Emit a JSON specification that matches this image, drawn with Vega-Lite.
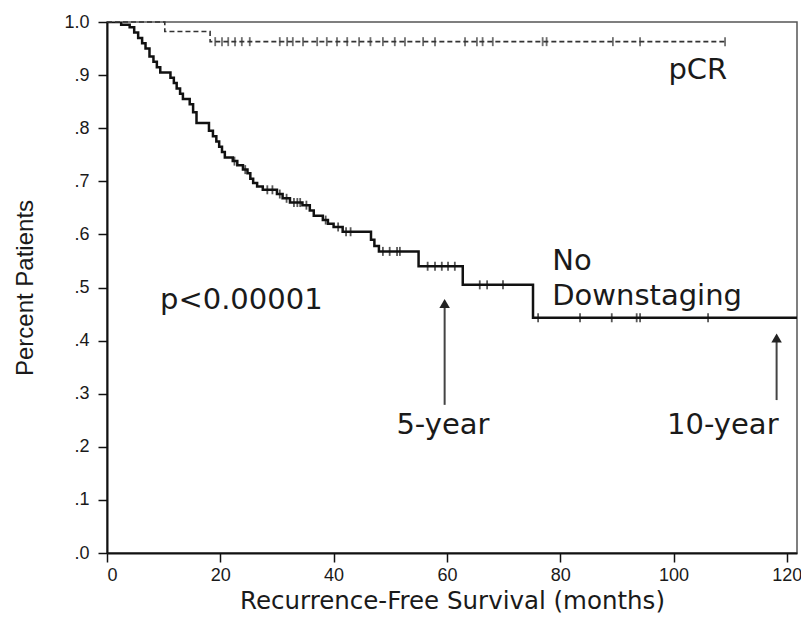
{
  "$schema": "https://vega.github.io/schema/vega-lite/v6.json",
  "width": 690,
  "height": 531,
  "autosize": "none",
  "padding": {"left": 107, "top": 22, "right": 4, "bottom": 64},
  "background": "white",
  "config": {
    "view": {"stroke": "#555", "strokeWidth": 1.5},
    "font": "Liberation Sans",
    "axis": {
      "grid": false,
      "domainColor": "#111",
      "domainWidth": 2,
      "tickColor": "#111",
      "tickWidth": 1.5,
      "tickSize": 9,
      "labelFont": "Liberation Sans",
      "labelFontSize": 18,
      "labelColor": "#1a1a1a",
      "titleFont": "DejaVu Sans",
      "titleFontSize": 24.5,
      "titleFontWeight": "normal",
      "titleColor": "#1a1a1a"
    }
  },
  "datasets": {
    "nd": [
      {"month": 0, "surv": 1.0},
      {"month": 2.5, "surv": 0.995},
      {"month": 4.0, "surv": 0.99},
      {"month": 4.8, "surv": 0.98},
      {"month": 5.5, "surv": 0.97},
      {"month": 6.2, "surv": 0.96},
      {"month": 6.8, "surv": 0.95},
      {"month": 7.5, "surv": 0.935},
      {"month": 8.2, "surv": 0.925},
      {"month": 8.8, "surv": 0.915},
      {"month": 9.4, "surv": 0.905},
      {"month": 11.2, "surv": 0.895},
      {"month": 11.8, "surv": 0.885},
      {"month": 12.3, "surv": 0.875},
      {"month": 12.9, "surv": 0.865},
      {"month": 13.4, "surv": 0.855},
      {"month": 14.6, "surv": 0.845},
      {"month": 15.2, "surv": 0.83},
      {"month": 15.8, "surv": 0.81},
      {"month": 18.0, "surv": 0.795},
      {"month": 18.7, "surv": 0.785},
      {"month": 19.3, "surv": 0.775},
      {"month": 19.8, "surv": 0.765},
      {"month": 20.3, "surv": 0.755},
      {"month": 20.8, "surv": 0.745},
      {"month": 22.2, "surv": 0.738},
      {"month": 23.0, "surv": 0.73},
      {"month": 24.0, "surv": 0.722},
      {"month": 24.8, "surv": 0.715},
      {"month": 25.3, "surv": 0.705},
      {"month": 25.8, "surv": 0.697},
      {"month": 26.5, "surv": 0.69},
      {"month": 27.5, "surv": 0.684},
      {"month": 30.0, "surv": 0.676},
      {"month": 31.0, "surv": 0.668},
      {"month": 32.3, "surv": 0.66},
      {"month": 34.5, "surv": 0.655},
      {"month": 35.8, "surv": 0.645},
      {"month": 36.5, "surv": 0.635},
      {"month": 38.1, "surv": 0.627},
      {"month": 39.0, "surv": 0.62},
      {"month": 40.0, "surv": 0.614},
      {"month": 41.6, "surv": 0.605},
      {"month": 46.6, "surv": 0.59},
      {"month": 47.2, "surv": 0.578},
      {"month": 48.0, "surv": 0.568},
      {"month": 55.0, "surv": 0.54},
      {"month": 62.8, "surv": 0.505},
      {"month": 75.2, "surv": 0.443},
      {"month": 121.8, "surv": 0.443}
    ],
    "ndc": [
      {"month": 22.5, "surv": 0.738},
      {"month": 24.4, "surv": 0.722},
      {"month": 28.3, "surv": 0.684},
      {"month": 29.2, "surv": 0.684},
      {"month": 30.5, "surv": 0.676},
      {"month": 31.7, "surv": 0.668},
      {"month": 33.0, "surv": 0.66},
      {"month": 33.6, "surv": 0.66},
      {"month": 34.1, "surv": 0.66},
      {"month": 35.2, "surv": 0.655},
      {"month": 38.6, "surv": 0.627},
      {"month": 40.8, "surv": 0.614},
      {"month": 42.2, "surv": 0.605},
      {"month": 43.0, "surv": 0.605},
      {"month": 48.7, "surv": 0.568},
      {"month": 49.9, "surv": 0.568},
      {"month": 51.2, "surv": 0.568},
      {"month": 51.7, "surv": 0.568},
      {"month": 56.6, "surv": 0.54},
      {"month": 57.9, "surv": 0.54},
      {"month": 59.1, "surv": 0.54},
      {"month": 60.2, "surv": 0.54},
      {"month": 61.4, "surv": 0.54},
      {"month": 65.8, "surv": 0.505},
      {"month": 67.1, "surv": 0.505},
      {"month": 69.9, "surv": 0.505},
      {"month": 76.1, "surv": 0.443},
      {"month": 83.5, "surv": 0.443},
      {"month": 89.1, "surv": 0.443},
      {"month": 93.5, "surv": 0.443},
      {"month": 94.1, "surv": 0.443},
      {"month": 106.1, "surv": 0.443}
    ],
    "pcr": [
      {"month": 0, "surv": 1.0},
      {"month": 10.2, "surv": 0.982},
      {"month": 18.2, "surv": 0.963},
      {"month": 109.1, "surv": 0.963}
    ],
    "pcrc": [
      {"month": 19.1, "surv": 0.963},
      {"month": 20.3, "surv": 0.963},
      {"month": 21.4, "surv": 0.963},
      {"month": 22.6, "surv": 0.963},
      {"month": 23.8, "surv": 0.963},
      {"month": 25.2, "surv": 0.963},
      {"month": 30.5, "surv": 0.963},
      {"month": 31.8, "surv": 0.963},
      {"month": 32.8, "surv": 0.963},
      {"month": 34.6, "surv": 0.963},
      {"month": 37.1, "surv": 0.963},
      {"month": 38.8, "surv": 0.963},
      {"month": 40.6, "surv": 0.963},
      {"month": 42.4, "surv": 0.963},
      {"month": 44.5, "surv": 0.963},
      {"month": 46.5, "surv": 0.963},
      {"month": 48.7, "surv": 0.963},
      {"month": 50.8, "surv": 0.963},
      {"month": 52.6, "surv": 0.963},
      {"month": 55.8, "surv": 0.963},
      {"month": 57.9, "surv": 0.963},
      {"month": 63.2, "surv": 0.963},
      {"month": 65.3, "surv": 0.963},
      {"month": 66.3, "surv": 0.963},
      {"month": 68.1, "surv": 0.963},
      {"month": 76.9, "surv": 0.963},
      {"month": 77.6, "surv": 0.963},
      {"month": 89.3, "surv": 0.963},
      {"month": 94.1, "surv": 0.963},
      {"month": 109.1, "surv": 0.963}
    ],
    "arrows": [
      {"month": 59.6, "top": 0.47, "bottom": 0.279},
      {"month": 118.2, "top": 0.405, "bottom": 0.288}
    ],
    "labels_left": [
      {"month": 78.6, "surv": 0.55, "label": "No"},
      {"month": 78.6, "surv": 0.484, "label": "Downstaging"},
      {"month": 9.35, "surv": 0.476, "label": "p<0.00001"}
    ],
    "labels_center": [
      {"month": 104.3, "surv": 0.91, "label": "pCR"},
      {"month": 59.3, "surv": 0.241, "label": "5-year"},
      {"month": 108.7, "surv": 0.241, "label": "10-year"}
    ]
  },
  "encoding": {
    "x": {
      "field": "month",
      "type": "quantitative",
      "scale": {"domain": [0, 121.8], "nice": false, "zero": false},
      "axis": {"values": [0, 20, 40, 60, 80, 100, 120], "title": "Recurrence-Free Survival (months)", "labelPadding": 4, "titlePadding": 5}
    }
  },
  "layer": [
    {
      "data": {"name": "nd"},
      "mark": {"type": "line", "interpolate": "step-after", "color": "#111", "strokeWidth": 2.5, "clip": true},
      "encoding": {
        "y": {
          "field": "surv",
          "type": "quantitative",
          "scale": {"domain": [0, 1], "nice": false},
          "axis": {
            "values": [0, 0.1, 0.2, 0.3, 0.4, 0.5, 0.6, 0.7, 0.8, 0.9, 1.0],
            "labelExpr": "datum.value >= 0.999 ? '1.0' : '.' + format(datum.value * 10, 'd')",
            "title": "Percent Patients",
            "titleFont": "Liberation Sans",
            "titleFontSize": 24,
            "labelPadding": 9,
            "titlePadding": 26
          }
        }
      }
    },
    {
      "data": {"name": "pcr"},
      "mark": {"type": "line", "interpolate": "step-after", "color": "#333", "strokeWidth": 1.6, "strokeDash": [5, 3]},
      "encoding": {"y": {"field": "surv", "type": "quantitative"}}
    },
    {
      "data": {"name": "ndc"},
      "mark": {"type": "tick", "orient": "vertical", "color": "#111", "size": 9, "thickness": 1.8},
      "encoding": {"y": {"field": "surv", "type": "quantitative"}}
    },
    {
      "data": {"name": "pcrc"},
      "mark": {"type": "tick", "orient": "vertical", "color": "#333", "size": 9, "thickness": 1.8},
      "encoding": {"y": {"field": "surv", "type": "quantitative"}}
    },
    {
      "data": {"name": "arrows"},
      "mark": {"type": "rule", "color": "#444", "strokeWidth": 2},
      "encoding": {
        "y": {"field": "top", "type": "quantitative"},
        "y2": {"field": "bottom"}
      }
    },
    {
      "data": {"name": "arrows"},
      "mark": {"type": "point", "shape": "triangle-up", "filled": true, "color": "#222", "size": 110, "opacity": 1},
      "encoding": {"y": {"field": "top", "type": "quantitative"}}
    },
    {
      "data": {"name": "labels_left"},
      "mark": {"type": "text", "align": "left", "baseline": "middle", "font": "DejaVu Sans", "fontSize": 29, "color": "#1a1a1a"},
      "encoding": {
        "y": {"field": "surv", "type": "quantitative"},
        "text": {"field": "label"}
      }
    },
    {
      "data": {"name": "labels_center"},
      "mark": {"type": "text", "align": "center", "baseline": "middle", "font": "DejaVu Sans", "fontSize": 29, "color": "#1a1a1a"},
      "encoding": {
        "y": {"field": "surv", "type": "quantitative"},
        "text": {"field": "label"}
      }
    }
  ]
}
